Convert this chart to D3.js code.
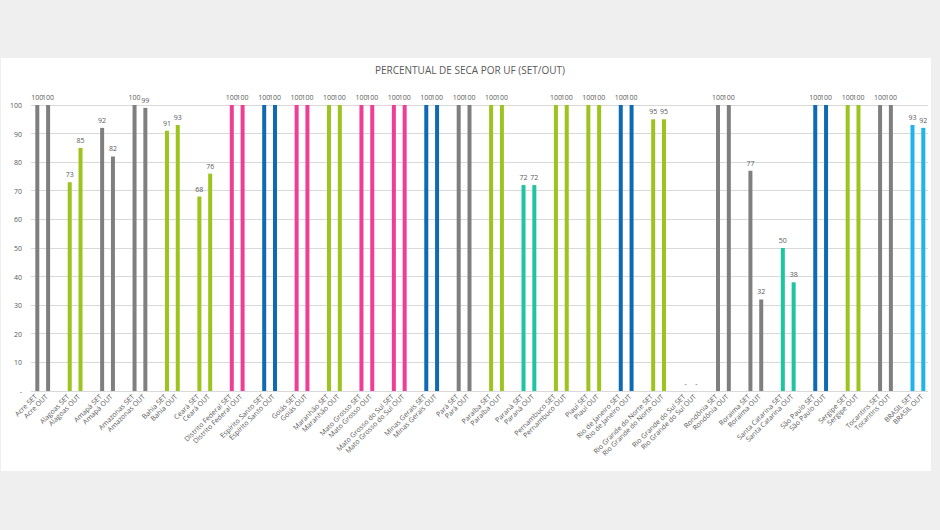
<!DOCTYPE html>
<html><head><meta charset="utf-8">
<script src="https://cdn.jsdelivr.net/npm/d3@7"></script>
<style>
html,body{margin:0;padding:0;background:#efefef;}
svg{display:block;}
text{font-family:"Open Sans","Liberation Sans",sans-serif;fill:#595959;}
</style></head>
<body><svg id="c" width="940" height="530"></svg>
<script>
const states = ["Acre","Alagoas","Amapá","Amazonas","Bahia","Ceará","Distrito Federal","Espírito Santo","Goiás","Maranhão","Mato Grosso","Mato Grosso do Sul","Minas Gerais","Pará","Paraíba","Paraná","Pernambuco","Piauí","Rio de Janeiro","Rio Grande do Norte","Rio Grande do Sul","Rondônia","Roraima","Santa Catarina","São Paulo","Sergipe","Tocantins","BRASIL"];
const setValues = [100,73,92,100,91,68,100,100,100,100,100,100,100,100,100,72,100,100,100,95,0,100,77,50,100,100,100,93];
const outValues = [100,85,82,99,93,76,100,100,100,100,100,100,100,100,100,72,100,100,100,95,0,100,32,38,100,100,100,92];
const groupColors = ["#7f7f7f","#9dc41e","#7f7f7f","#7f7f7f","#9dc41e","#9dc41e","#ee3e96","#0e6ab3","#ee3e96","#9dc41e","#ee3e96","#ee3e96","#0e6ab3","#7f7f7f","#9dc41e","#1fc5a0","#9dc41e","#9dc41e","#0e6ab3","#9dc41e","#7f7f7f","#7f7f7f","#7f7f7f","#1fc5a0","#0e6ab3","#9dc41e","#7f7f7f","#20b4ec"];
const yTicks = [0,10,20,30,40,50,60,70,80,90,100];
const title = "PERCENTUAL DE SECA POR UF (SET/OUT)";

// Build slots: SET, OUT, blank between groups
const slots = [];
states.forEach((s,i)=>{
  slots.push({id:"s"+i+"a", label:s+" SET", value:setValues[i], color:groupColors[i]});
  slots.push({id:"s"+i+"b", label:s+" OUT", value:outValues[i], color:groupColors[i]});
  if(i<states.length-1) slots.push({id:"blank"+i, label:"", value:null});
});

const svg = d3.select("#c");
svg.append("rect").attr("x",1).attr("y",58).attr("width",930).attr("height",413).attr("fill","#fff");

const x = d3.scaleBand().domain(slots.map(d=>d.id)).range([31.9,928.7]).paddingInner(0).paddingOuter(0);
const y = d3.scaleLinear().domain([0,100]).range([391,105]);

// gridlines
svg.append("g").selectAll("line").data(yTicks.filter(t=>t>0)).join("line")
  .attr("x1",31).attr("x2",928).attr("y1",d=>y(d)).attr("y2",d=>y(d))
  .attr("stroke","#d9d9d9").attr("stroke-width",1).attr("shape-rendering","crispEdges");
svg.append("line").attr("x1",31).attr("x2",928).attr("y1",y(0)).attr("y2",y(0))
  .attr("stroke","#d9d9d9").attr("shape-rendering","crispEdges");

// y axis labels
const yAxis = d3.axisLeft(y).tickValues(yTicks).tickSize(0).tickPadding(0)
  .tickFormat(d=>d===0?"-":String(d));
const ga = svg.append("g").attr("transform","translate(22,0)").call(yAxis);
ga.select(".domain").remove();
ga.selectAll("text").style("font-size","7px").attr("fill","#595959").attr("dy","0.35em");

// bars
const bw = 4;
const real = slots.filter(d=>d.value!==null);
svg.append("g").selectAll("rect").data(real.filter(d=>d.value>0)).join("rect")
  .attr("x",d=>x(d.id)+x.bandwidth()/2-bw/2).attr("width",bw)
  .attr("y",d=>y(d.value)).attr("height",d=>y(0)-y(d.value))
  .attr("fill",d=>d.color);

// data labels
svg.append("g").selectAll("text").data(real).join("text")
  .attr("x",d=>x(d.id)+x.bandwidth()/2).attr("y",d=>y(d.value)-5)
  .attr("text-anchor","middle").style("font-size","7px")
  .text(d=>d.value===0?"-":d.value);

// x labels
const xAxis = d3.axisBottom(x).tickSize(0).tickPadding(0).tickFormat(id=>slots.find(s=>s.id===id).label);
const gx = svg.append("g").attr("transform","translate(0,394)").call(xAxis);
gx.select(".domain").remove();
gx.selectAll("text").style("font-size","7px").attr("fill","#595959")
  .attr("text-anchor","end").attr("dy","0.35em")
  .attr("transform","rotate(-45) translate(-2,0)").attr("y",0).attr("x",0);

// title
svg.append("text").attr("x",470).attr("y",74).attr("text-anchor","middle")
  .style("font-size","10px").text(title);
</script></body></html>
